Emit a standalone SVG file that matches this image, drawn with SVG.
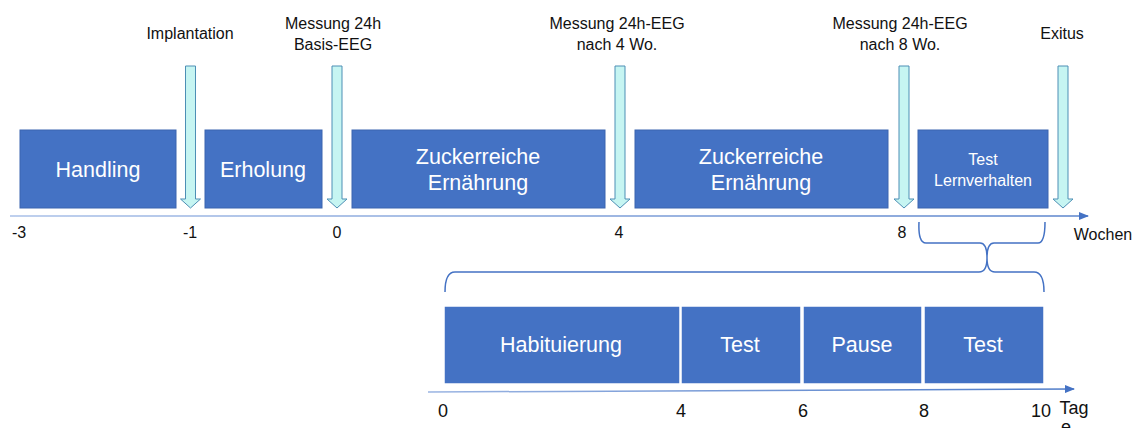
<svg xmlns="http://www.w3.org/2000/svg" width="1139" height="428" viewBox="0 0 1139 428">
<style>
.box{fill:#4472c4;stroke:#3b65b0;stroke-width:1}
.bbox{fill:#4472c4;stroke:#ffffff;stroke-width:1.5}
.bt{font-family:"Liberation Sans",Arial,sans-serif;font-size:21.5px;fill:#ffffff;text-anchor:middle}
.st{font-family:"Liberation Sans",Arial,sans-serif;font-size:16px;fill:#ffffff;text-anchor:middle}
.lb{font-family:"Liberation Sans",Arial,sans-serif;font-size:16px;fill:#111111;text-anchor:middle}
.tk{font-family:"Liberation Sans",Arial,sans-serif;font-size:16px;fill:#111111;text-anchor:middle}
.tk2{font-family:"Liberation Sans",Arial,sans-serif;font-size:18px;fill:#111111;text-anchor:middle}
.arr{fill:#c6f5f2;stroke:#4d8fb5;stroke-width:1}
.br{stroke:#4472c4;stroke-width:1.5;fill:none}
</style>
<defs>
<marker id="ah" markerWidth="10" markerHeight="8" refX="9" refY="4" orient="auto" markerUnits="userSpaceOnUse">
<path d="M0,0 L10,4 L0,8 Z" fill="#4472c4"/>
</marker>
<linearGradient id="g1" gradientUnits="userSpaceOnUse" x1="10" y1="0" x2="1090" y2="0">
<stop offset="0" stop-color="#a9c0e8"/>
<stop offset="1" stop-color="#5b84cc"/>
</linearGradient>
<linearGradient id="g2" gradientUnits="userSpaceOnUse" x1="428" y1="0" x2="1076" y2="0">
<stop offset="0" stop-color="#9ab4e2"/>
<stop offset="1" stop-color="#4e7bc8"/>
</linearGradient>
</defs>

<g id="axes">
<line x1="10" y1="216" x2="1088" y2="216" stroke="url(#g1)" stroke-width="1.5" marker-end="url(#ah)"/>
<path d="M428,392 L1074,389" stroke="url(#g2)" stroke-width="1.5" fill="none" marker-end="url(#ah)"/>
</g>

<g id="node-handling"><rect class="box" x="20" y="130" width="156" height="78"/><text class="bt" x="98" y="177">Handling</text></g>
<g id="node-erholung"><rect class="box" x="205" y="130" width="117" height="78"/><text class="bt" x="263" y="177">Erholung</text></g>
<g id="node-zucker1"><rect class="box" x="352" y="130" width="253" height="78"/><text class="bt" x="478" y="164">Zuckerreiche</text><text class="bt" x="478" y="190">Ernährung</text></g>
<g id="node-zucker2"><rect class="box" x="635" y="130" width="253" height="78"/><text class="bt" x="761" y="164">Zuckerreiche</text><text class="bt" x="761" y="190">Ernährung</text></g>
<g id="node-test-lern"><rect class="box" x="918" y="130" width="130" height="78"/><text class="st" x="983" y="165">Test</text><text class="st" x="983" y="186">Lernverhalten</text></g>

<g id="arrows">
<path class="arr" d="M185.5,66 H195.5 V199 H200.5 L190.5,208 L180.5,199 H185.5 Z"/>
<path class="arr" d="M332,66 H342 V199 H347 L337,208 L327,199 H332 Z"/>
<path class="arr" d="M615,66 H625 V199 H630 L620,208 L610,199 H615 Z"/>
<path class="arr" d="M899,66 H909 V199 H914 L904,208 L894,199 H899 Z"/>
<path class="arr" d="M1058,66 H1068 V199 H1073 L1063,208 L1053,199 H1058 Z"/>
</g>

<g id="labels">
<text class="lb" x="190" y="39">Implantation</text>
<text class="lb" x="333" y="29">Messung 24h</text>
<text class="lb" x="333" y="50">Basis-EEG</text>
<text class="lb" x="617" y="29">Messung 24h-EEG</text>
<text class="lb" x="617" y="50">nach 4 Wo.</text>
<text class="lb" x="900" y="29">Messung 24h-EEG</text>
<text class="lb" x="900" y="50">nach 8 Wo.</text>
<text class="lb" x="1062" y="39">Exitus</text>
</g>

<g id="ticks-top">
<text class="tk" x="19" y="238">-3</text>
<text class="tk" x="190" y="238">-1</text>
<text class="tk" x="337" y="238">0</text>
<text class="tk" x="619" y="238">4</text>
<text class="tk" x="902" y="238">8</text>
<text class="tk" x="1103" y="240">Wochen</text>
</g>

<g id="braces">
<path class="br" d="M919,222 Q918,243 926,243 H980 Q987,243 987,258 Q987,243 994,243 H1038 Q1045,243 1045,222"/>
<path class="br" d="M445,292 Q445,272 455,272 H979 Q987,272 987,258 Q987,272 995,272 H1034 Q1044,272 1044,292"/>
</g>

<g id="node-habituierung"><rect class="bbox" x="444" y="306" width="236" height="78"/><text class="bt" x="561" y="352">Habituierung</text></g>
<g id="node-test1"><rect class="bbox" x="681" y="306" width="120" height="78"/><text class="bt" x="740" y="352">Test</text></g>
<g id="node-pause"><rect class="bbox" x="803" y="306" width="119" height="78"/><text class="bt" x="862" y="352">Pause</text></g>
<g id="node-test2"><rect class="bbox" x="924" y="306" width="120" height="78"/><text class="bt" x="983" y="352">Test</text></g>

<g id="ticks-bottom">
<text class="tk2" x="443" y="417">0</text>
<text class="tk2" x="681" y="417">4</text>
<text class="tk2" x="803" y="417">6</text>
<text class="tk2" x="924" y="417">8</text>
<text class="tk2" x="1041" y="417">10</text>
<text class="tk2" x="1074" y="414">Tag</text>
<text class="tk2" x="1066" y="433">e</text>
</g>
</svg>
